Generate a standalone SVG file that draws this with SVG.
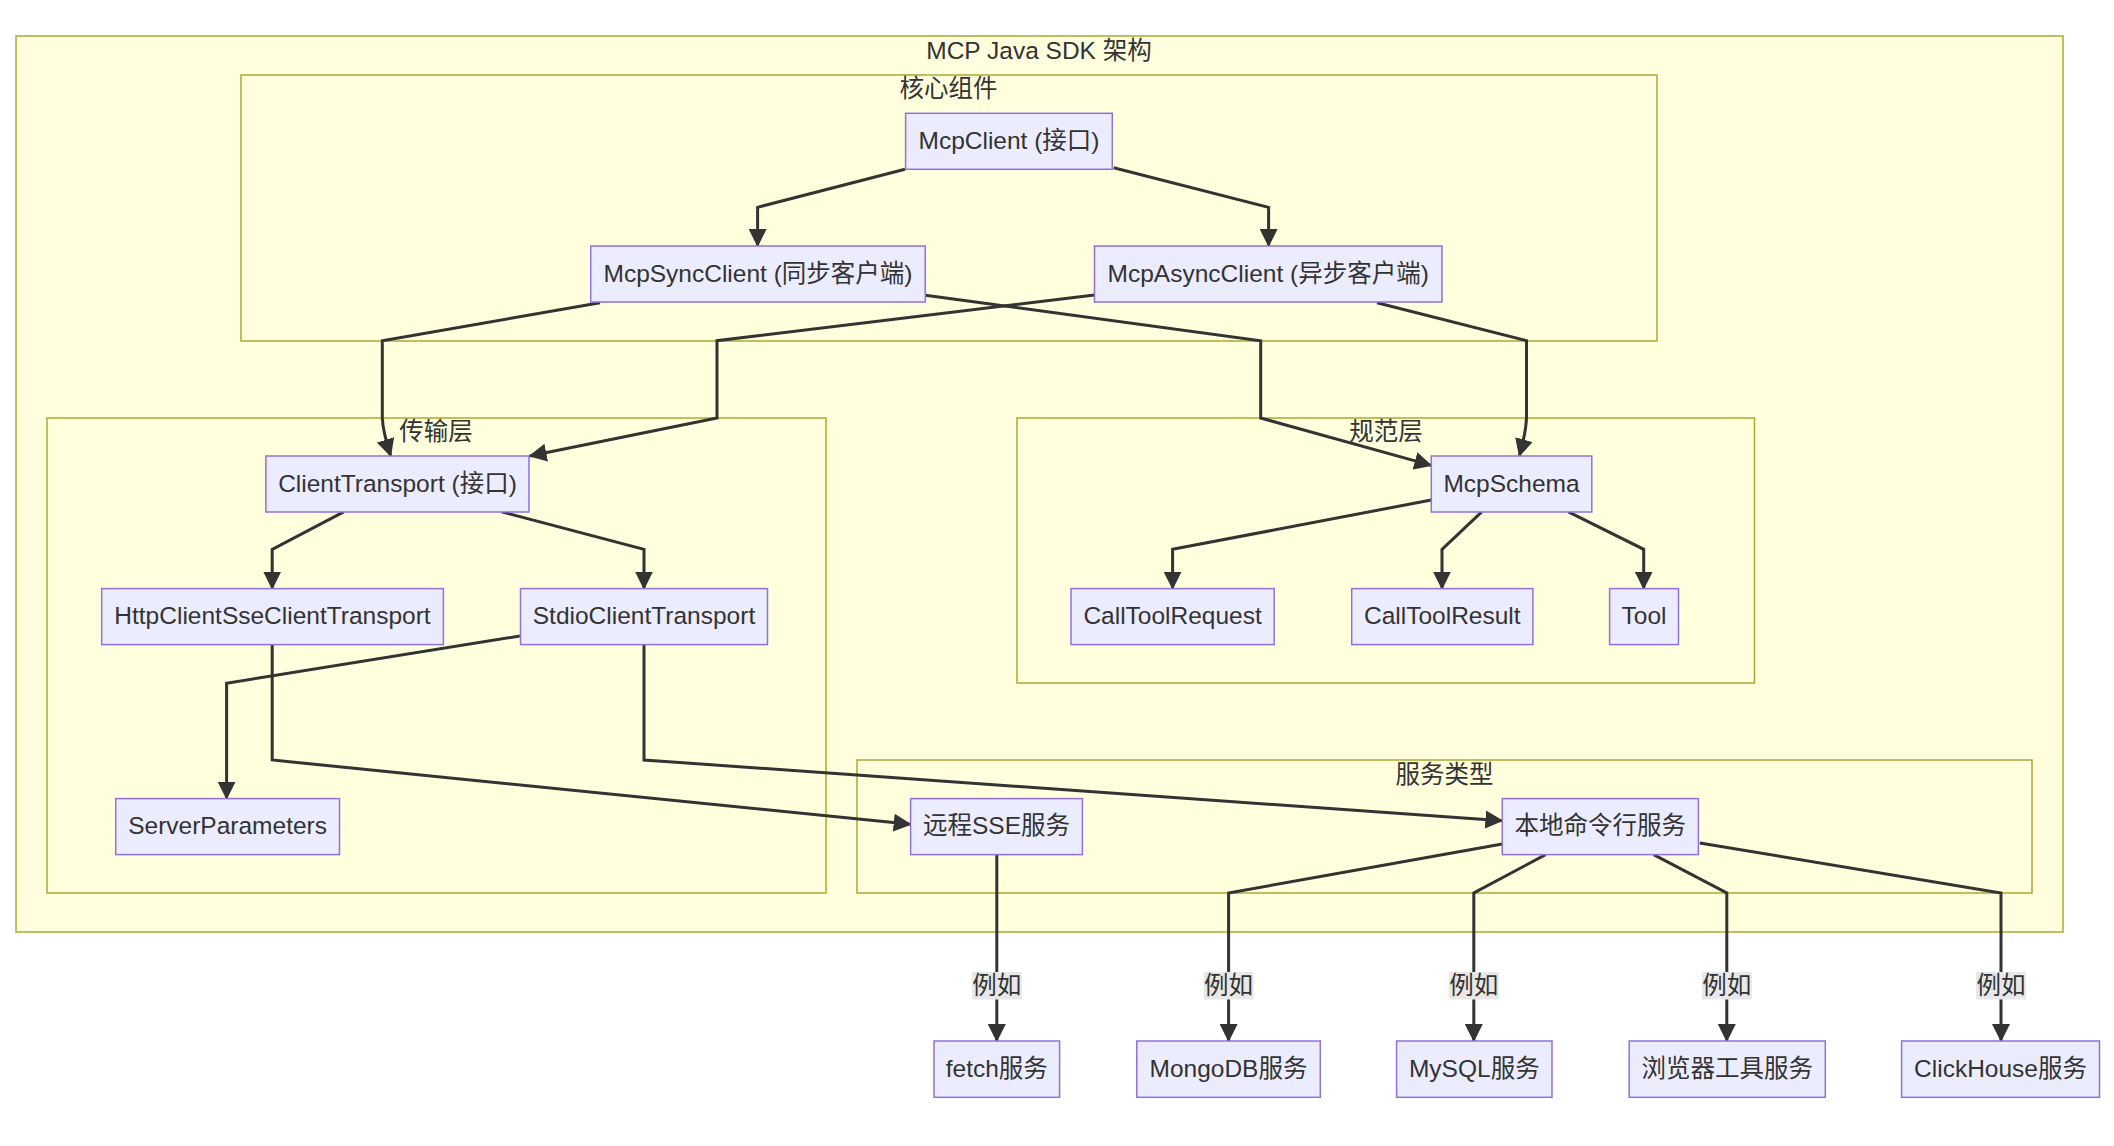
<svg xmlns="http://www.w3.org/2000/svg" width="2114" height="1146" viewBox="0 0 2114 1146">
<defs>
<style>
.cluster rect{fill:#ffffde;stroke:#aaaa33;stroke-width:1.5}
.node rect{fill:#ececff;stroke:#9370db;stroke-width:1.5}
text{font-family:"Liberation Sans","Noto Sans CJK SC",sans-serif;font-size:24.5px;fill:#333;text-anchor:middle}
.edges path{fill:none;stroke:#333;stroke-width:3;stroke-linejoin:miter}
.elabel rect{fill:#e8e8e8}
</style>
<marker id="arrow" markerUnits="userSpaceOnUse" markerWidth="18" markerHeight="18" viewBox="0 0 17 17" refX="16" refY="8.5" orient="auto">
<path d="M0,0 L17,8.5 L0,17 z" fill="#333"/>
</marker>
</defs>
<rect width="2114" height="1146" fill="#ffffff"/>
<g id="cluster-sdk" class="cluster"><rect x="16" y="36" width="2047" height="896"/><text x="1039" y="58.5">MCP Java SDK 架构</text></g>
<g id="cluster-core" class="cluster"><rect x="241" y="75" width="1416" height="266"/><text x="948.5" y="96.5">核心组件</text></g>
<g id="cluster-transport" class="cluster"><rect x="47" y="418" width="779" height="475"/><text x="436" y="439.5">传输层</text></g>
<g id="cluster-schema" class="cluster"><rect x="1017" y="418" width="737.5" height="265"/><text x="1386" y="439.5">规范层</text></g>
<g id="cluster-services" class="cluster"><rect x="857" y="760" width="1175" height="133"/><text x="1444.5" y="782.5">服务类型</text></g>
<g id="edges" class="edges">
<path d="M905,169.3 L757.6,207.3 L757.6,246" marker-end="url(#arrow)"/>
<path d="M1113.7,167.7 L1268.6,207.3 L1268.6,246" marker-end="url(#arrow)"/>
<path d="M600,302.7 L382.3,340.7 L382.3,418 Q383,432 390.7,456" marker-end="url(#arrow)"/>
<path d="M1094.5,295 L717,340.7 L717,418 L529.6,456" marker-end="url(#arrow)"/>
<path d="M925.3,295.3 L1260.7,340.7 L1260.7,418 L1431.3,465.4" marker-end="url(#arrow)"/>
<path d="M1377,302.7 L1526.5,340.7 L1526.5,418 Q1526,432 1519.4,456" marker-end="url(#arrow)"/>
<path d="M343.7,511.8 L272.2,549.3 L272.2,588.6" marker-end="url(#arrow)"/>
<path d="M501.6,511.8 L644,549.3 L644,588.6" marker-end="url(#arrow)"/>
<path d="M1431.3,500 L1172.6,549.3 L1172.6,588.6" marker-end="url(#arrow)"/>
<path d="M1481.7,511.8 L1442,549.3 L1442,588.6" marker-end="url(#arrow)"/>
<path d="M1568.4,511.8 L1643.7,549.3 L1643.7,588.6" marker-end="url(#arrow)"/>
<path d="M519.8,636 L226.6,683.2 L226.6,798.6" marker-end="url(#arrow)"/>
<path d="M272.2,644.6 L272.2,760 L910.6,824.3" marker-end="url(#arrow)"/>
<path d="M644,644.6 L644,760 L1502.3,820.7" marker-end="url(#arrow)"/>
<path d="M996.8,854.6 L996.8,1041" marker-end="url(#arrow)"/>
<path d="M1502.3,844 L1228.6,893 L1228.6,1041" marker-end="url(#arrow)"/>
<path d="M1545.6,854.6 L1473.8,893 L1473.8,1041" marker-end="url(#arrow)"/>
<path d="M1653.6,854.6 L1726.8,893 L1726.8,1041" marker-end="url(#arrow)"/>
<path d="M1699.8,843 L2001,893 L2001,1041" marker-end="url(#arrow)"/>
<g class="elabel"><rect x="971.8" y="972" width="50" height="27.5"/><text x="996.8" y="993.5">例如</text></g>
<g class="elabel"><rect x="1203.6" y="972" width="50" height="27.5"/><text x="1228.6" y="993.5">例如</text></g>
<g class="elabel"><rect x="1448.8" y="972" width="50" height="27.5"/><text x="1473.8" y="993.5">例如</text></g>
<g class="elabel"><rect x="1701.8" y="972" width="50" height="27.5"/><text x="1726.8" y="993.5">例如</text></g>
<g class="elabel"><rect x="1976" y="972" width="50" height="27.5"/><text x="2001" y="993.5">例如</text></g>
</g>
<g id="McpClient" class="node"><rect x="905.6" y="113.3" width="206.7" height="56"/><text x="1009" y="148.8">McpClient (接口)</text></g>
<g id="McpSyncClient" class="node"><rect x="590.7" y="246" width="334.6" height="56"/><text x="758" y="281.5">McpSyncClient (同步客户端)</text></g>
<g id="McpAsyncClient" class="node"><rect x="1094.5" y="246" width="347.5" height="56"/><text x="1268.2" y="281.5">McpAsyncClient (异步客户端)</text></g>
<g id="ClientTransport" class="node"><rect x="265.9" y="456" width="263.1" height="56"/><text x="397.5" y="491.5">ClientTransport (接口)</text></g>
<g id="HttpClientSseClientTransport" class="node"><rect x="101.7" y="588.6" width="341.7" height="56"/><text x="272.5" y="624.1">HttpClientSseClientTransport</text></g>
<g id="StdioClientTransport" class="node"><rect x="520.5" y="588.6" width="247" height="56"/><text x="644" y="624.1">StdioClientTransport</text></g>
<g id="ServerParameters" class="node"><rect x="115.7" y="798.6" width="223.8" height="56"/><text x="227.6" y="834.1">ServerParameters</text></g>
<g id="McpSchema" class="node"><rect x="1431.3" y="456" width="160.5" height="56"/><text x="1511.5" y="491.5">McpSchema</text></g>
<g id="CallToolRequest" class="node"><rect x="1071" y="588.6" width="203.2" height="56"/><text x="1172.6" y="624.1">CallToolRequest</text></g>
<g id="CallToolResult" class="node"><rect x="1351.7" y="588.6" width="181.2" height="56"/><text x="1442.3" y="624.1">CallToolResult</text></g>
<g id="Tool" class="node"><rect x="1609.6" y="588.6" width="68.9" height="56"/><text x="1644" y="624.1">Tool</text></g>
<g id="RemoteSSE" class="node"><rect x="910.6" y="798.6" width="171.8" height="56"/><text x="996.5" y="834.1">远程SSE服务</text></g>
<g id="LocalCmd" class="node"><rect x="1502.3" y="798.6" width="196.1" height="56"/><text x="1600.3" y="834.1">本地命令行服务</text></g>
<g id="fetch" class="node"><rect x="934" y="1041" width="125.6" height="56.3"/><text x="996.8" y="1076.7">fetch服务</text></g>
<g id="MongoDB" class="node"><rect x="1136.8" y="1041" width="183.5" height="56.3"/><text x="1228.5" y="1076.7">MongoDB服务</text></g>
<g id="MySQL" class="node"><rect x="1396.6" y="1041" width="155.4" height="56.3"/><text x="1474.3" y="1076.7">MySQL服务</text></g>
<g id="Browser" class="node"><rect x="1629.2" y="1041" width="196.1" height="56.3"/><text x="1727.2" y="1076.7">浏览器工具服务</text></g>
<g id="ClickHouse" class="node"><rect x="1901.6" y="1041" width="197.9" height="56.3"/><text x="2000.5" y="1076.7">ClickHouse服务</text></g>
</svg>
